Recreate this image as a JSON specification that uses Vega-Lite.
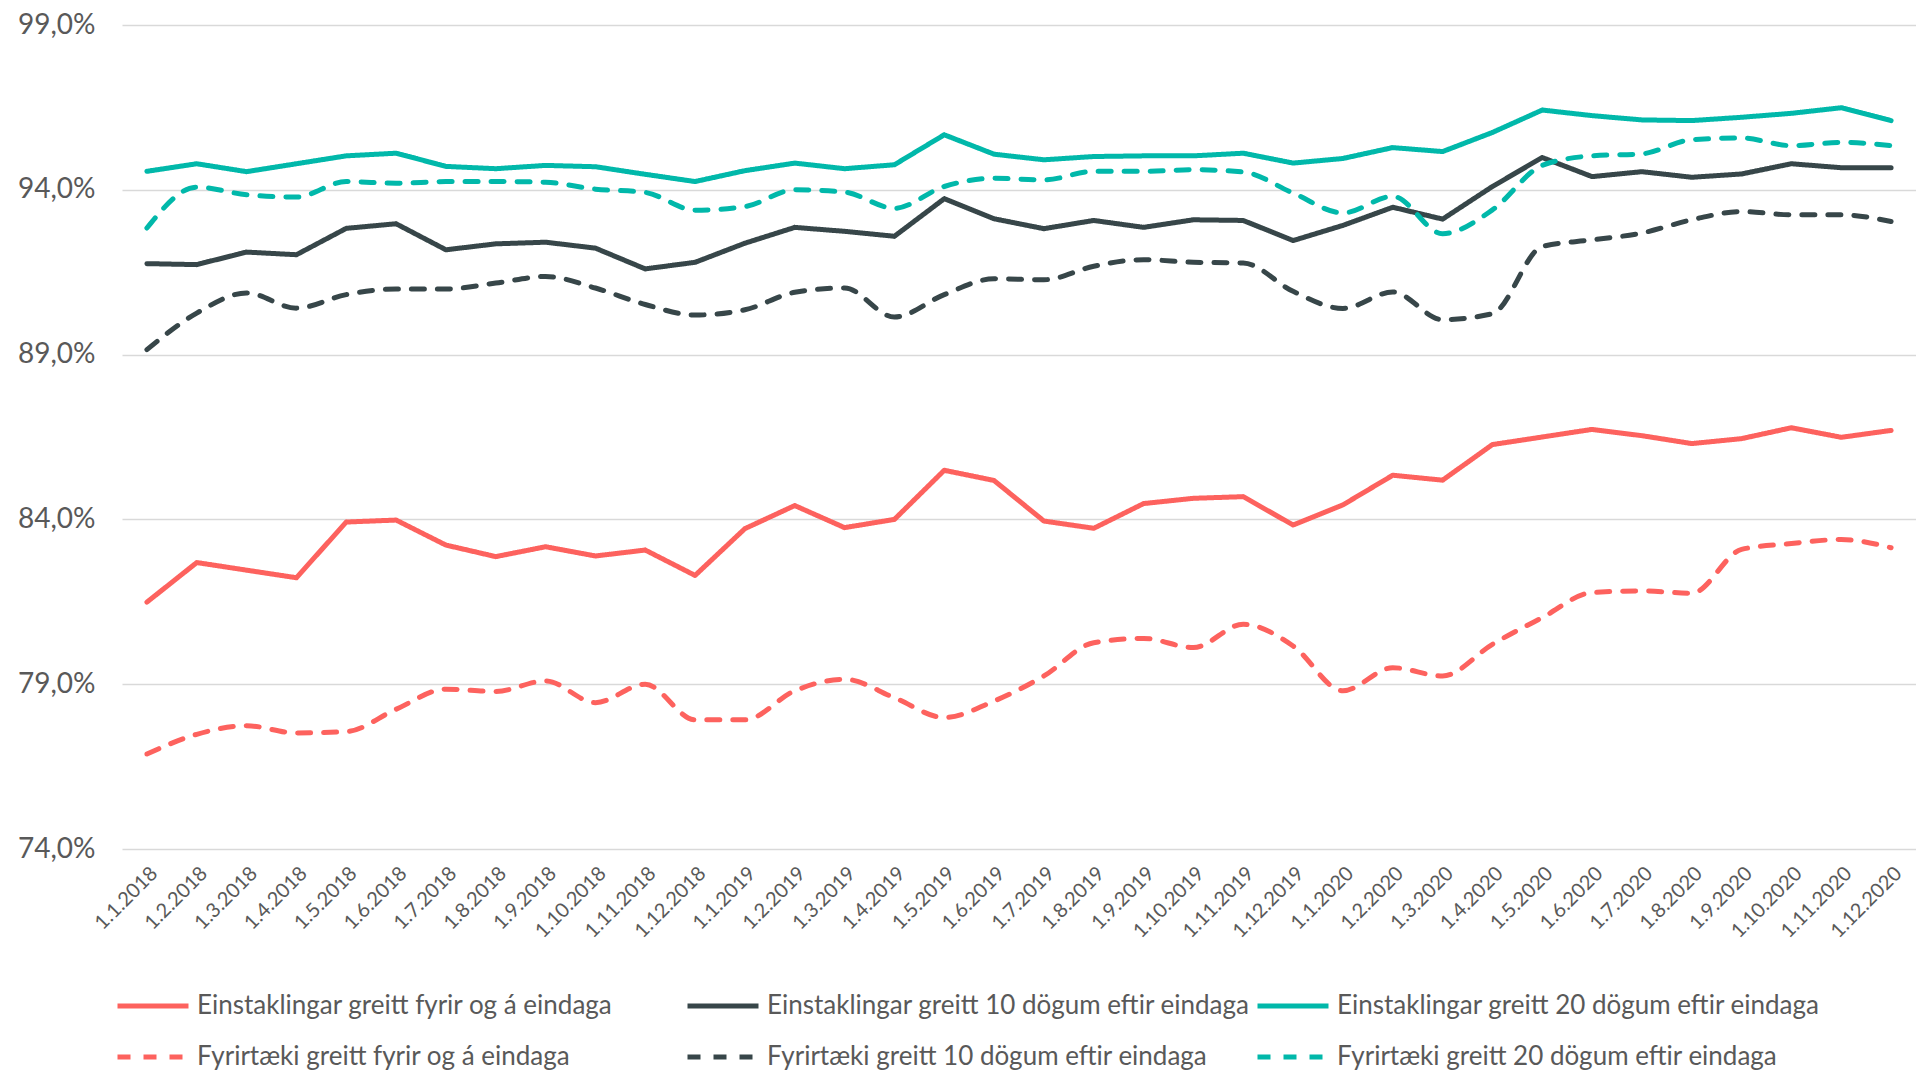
{
  "$schema": "https://vega.github.io/schema/vega-lite/v6.json",
  "width": 1794,
  "height": 824,
  "autosize": {"type": "none"},
  "padding": {"left": 122, "top": 25, "right": 0, "bottom": 222},
  "background": "white",
  "config": {
    "view": {"stroke": null},
    "font": "Lato"
  },
  "datasets": {
    "rows": [
      {"d":"1.1.2018","s":"Einstaklingar greitt fyrir og á eindaga","v":81.49},
      {"d":"1.2.2018","s":"Einstaklingar greitt fyrir og á eindaga","v":82.69},
      {"d":"1.3.2018","s":"Einstaklingar greitt fyrir og á eindaga","v":82.46},
      {"d":"1.4.2018","s":"Einstaklingar greitt fyrir og á eindaga","v":82.23},
      {"d":"1.5.2018","s":"Einstaklingar greitt fyrir og á eindaga","v":83.92},
      {"d":"1.6.2018","s":"Einstaklingar greitt fyrir og á eindaga","v":83.98},
      {"d":"1.7.2018","s":"Einstaklingar greitt fyrir og á eindaga","v":83.22},
      {"d":"1.8.2018","s":"Einstaklingar greitt fyrir og á eindaga","v":82.87},
      {"d":"1.9.2018","s":"Einstaklingar greitt fyrir og á eindaga","v":83.17},
      {"d":"1.10.2018","s":"Einstaklingar greitt fyrir og á eindaga","v":82.89},
      {"d":"1.11.2018","s":"Einstaklingar greitt fyrir og á eindaga","v":83.07},
      {"d":"1.12.2018","s":"Einstaklingar greitt fyrir og á eindaga","v":82.30},
      {"d":"1.1.2019","s":"Einstaklingar greitt fyrir og á eindaga","v":83.72},
      {"d":"1.2.2019","s":"Einstaklingar greitt fyrir og á eindaga","v":84.42},
      {"d":"1.3.2019","s":"Einstaklingar greitt fyrir og á eindaga","v":83.75},
      {"d":"1.4.2019","s":"Einstaklingar greitt fyrir og á eindaga","v":84.00},
      {"d":"1.5.2019","s":"Einstaklingar greitt fyrir og á eindaga","v":85.49},
      {"d":"1.6.2019","s":"Einstaklingar greitt fyrir og á eindaga","v":85.18},
      {"d":"1.7.2019","s":"Einstaklingar greitt fyrir og á eindaga","v":83.95},
      {"d":"1.8.2019","s":"Einstaklingar greitt fyrir og á eindaga","v":83.73},
      {"d":"1.9.2019","s":"Einstaklingar greitt fyrir og á eindaga","v":84.48},
      {"d":"1.10.2019","s":"Einstaklingar greitt fyrir og á eindaga","v":84.64},
      {"d":"1.11.2019","s":"Einstaklingar greitt fyrir og á eindaga","v":84.69},
      {"d":"1.12.2019","s":"Einstaklingar greitt fyrir og á eindaga","v":83.83},
      {"d":"1.1.2020","s":"Einstaklingar greitt fyrir og á eindaga","v":84.44},
      {"d":"1.2.2020","s":"Einstaklingar greitt fyrir og á eindaga","v":85.34},
      {"d":"1.3.2020","s":"Einstaklingar greitt fyrir og á eindaga","v":85.19},
      {"d":"1.4.2020","s":"Einstaklingar greitt fyrir og á eindaga","v":86.27},
      {"d":"1.5.2020","s":"Einstaklingar greitt fyrir og á eindaga","v":86.50},
      {"d":"1.6.2020","s":"Einstaklingar greitt fyrir og á eindaga","v":86.73},
      {"d":"1.7.2020","s":"Einstaklingar greitt fyrir og á eindaga","v":86.54},
      {"d":"1.8.2020","s":"Einstaklingar greitt fyrir og á eindaga","v":86.30},
      {"d":"1.9.2020","s":"Einstaklingar greitt fyrir og á eindaga","v":86.45},
      {"d":"1.10.2020","s":"Einstaklingar greitt fyrir og á eindaga","v":86.78},
      {"d":"1.11.2020","s":"Einstaklingar greitt fyrir og á eindaga","v":86.49},
      {"d":"1.12.2020","s":"Einstaklingar greitt fyrir og á eindaga","v":86.70},

      {"d":"1.1.2018","s":"Einstaklingar greitt 10 dögum eftir eindaga","v":91.76},
      {"d":"1.2.2018","s":"Einstaklingar greitt 10 dögum eftir eindaga","v":91.73},
      {"d":"1.3.2018","s":"Einstaklingar greitt 10 dögum eftir eindaga","v":92.11},
      {"d":"1.4.2018","s":"Einstaklingar greitt 10 dögum eftir eindaga","v":92.03},
      {"d":"1.5.2018","s":"Einstaklingar greitt 10 dögum eftir eindaga","v":92.83},
      {"d":"1.6.2018","s":"Einstaklingar greitt 10 dögum eftir eindaga","v":92.97},
      {"d":"1.7.2018","s":"Einstaklingar greitt 10 dögum eftir eindaga","v":92.18},
      {"d":"1.8.2018","s":"Einstaklingar greitt 10 dögum eftir eindaga","v":92.36},
      {"d":"1.9.2018","s":"Einstaklingar greitt 10 dögum eftir eindaga","v":92.41},
      {"d":"1.10.2018","s":"Einstaklingar greitt 10 dögum eftir eindaga","v":92.23},
      {"d":"1.11.2018","s":"Einstaklingar greitt 10 dögum eftir eindaga","v":91.60},
      {"d":"1.12.2018","s":"Einstaklingar greitt 10 dögum eftir eindaga","v":91.80},
      {"d":"1.1.2019","s":"Einstaklingar greitt 10 dögum eftir eindaga","v":92.38},
      {"d":"1.2.2019","s":"Einstaklingar greitt 10 dögum eftir eindaga","v":92.86},
      {"d":"1.3.2019","s":"Einstaklingar greitt 10 dögum eftir eindaga","v":92.74},
      {"d":"1.4.2019","s":"Einstaklingar greitt 10 dögum eftir eindaga","v":92.59},
      {"d":"1.5.2019","s":"Einstaklingar greitt 10 dögum eftir eindaga","v":93.73},
      {"d":"1.6.2019","s":"Einstaklingar greitt 10 dögum eftir eindaga","v":93.12},
      {"d":"1.7.2019","s":"Einstaklingar greitt 10 dögum eftir eindaga","v":92.82},
      {"d":"1.8.2019","s":"Einstaklingar greitt 10 dögum eftir eindaga","v":93.07},
      {"d":"1.9.2019","s":"Einstaklingar greitt 10 dögum eftir eindaga","v":92.86},
      {"d":"1.10.2019","s":"Einstaklingar greitt 10 dögum eftir eindaga","v":93.09},
      {"d":"1.11.2019","s":"Einstaklingar greitt 10 dögum eftir eindaga","v":93.07},
      {"d":"1.12.2019","s":"Einstaklingar greitt 10 dögum eftir eindaga","v":92.46},
      {"d":"1.1.2020","s":"Einstaklingar greitt 10 dögum eftir eindaga","v":92.92},
      {"d":"1.2.2020","s":"Einstaklingar greitt 10 dögum eftir eindaga","v":93.47},
      {"d":"1.3.2020","s":"Einstaklingar greitt 10 dögum eftir eindaga","v":93.11},
      {"d":"1.4.2020","s":"Einstaklingar greitt 10 dögum eftir eindaga","v":94.10},
      {"d":"1.5.2020","s":"Einstaklingar greitt 10 dögum eftir eindaga","v":94.98},
      {"d":"1.6.2020","s":"Einstaklingar greitt 10 dögum eftir eindaga","v":94.40},
      {"d":"1.7.2020","s":"Einstaklingar greitt 10 dögum eftir eindaga","v":94.55},
      {"d":"1.8.2020","s":"Einstaklingar greitt 10 dögum eftir eindaga","v":94.38},
      {"d":"1.9.2020","s":"Einstaklingar greitt 10 dögum eftir eindaga","v":94.48},
      {"d":"1.10.2020","s":"Einstaklingar greitt 10 dögum eftir eindaga","v":94.79},
      {"d":"1.11.2020","s":"Einstaklingar greitt 10 dögum eftir eindaga","v":94.67},
      {"d":"1.12.2020","s":"Einstaklingar greitt 10 dögum eftir eindaga","v":94.67},

      {"d":"1.1.2018","s":"Einstaklingar greitt 20 dögum eftir eindaga","v":94.56},
      {"d":"1.2.2018","s":"Einstaklingar greitt 20 dögum eftir eindaga","v":94.79},
      {"d":"1.3.2018","s":"Einstaklingar greitt 20 dögum eftir eindaga","v":94.55},
      {"d":"1.4.2018","s":"Einstaklingar greitt 20 dögum eftir eindaga","v":94.79},
      {"d":"1.5.2018","s":"Einstaklingar greitt 20 dögum eftir eindaga","v":95.03},
      {"d":"1.6.2018","s":"Einstaklingar greitt 20 dögum eftir eindaga","v":95.11},
      {"d":"1.7.2018","s":"Einstaklingar greitt 20 dögum eftir eindaga","v":94.71},
      {"d":"1.8.2018","s":"Einstaklingar greitt 20 dögum eftir eindaga","v":94.64},
      {"d":"1.9.2018","s":"Einstaklingar greitt 20 dögum eftir eindaga","v":94.74},
      {"d":"1.10.2018","s":"Einstaklingar greitt 20 dögum eftir eindaga","v":94.70},
      {"d":"1.11.2018","s":"Einstaklingar greitt 20 dögum eftir eindaga","v":94.47},
      {"d":"1.12.2018","s":"Einstaklingar greitt 20 dögum eftir eindaga","v":94.25},
      {"d":"1.1.2019","s":"Einstaklingar greitt 20 dögum eftir eindaga","v":94.58},
      {"d":"1.2.2019","s":"Einstaklingar greitt 20 dögum eftir eindaga","v":94.81},
      {"d":"1.3.2019","s":"Einstaklingar greitt 20 dögum eftir eindaga","v":94.64},
      {"d":"1.4.2019","s":"Einstaklingar greitt 20 dögum eftir eindaga","v":94.76},
      {"d":"1.5.2019","s":"Einstaklingar greitt 20 dögum eftir eindaga","v":95.67},
      {"d":"1.6.2019","s":"Einstaklingar greitt 20 dögum eftir eindaga","v":95.08},
      {"d":"1.7.2019","s":"Einstaklingar greitt 20 dögum eftir eindaga","v":94.91},
      {"d":"1.8.2019","s":"Einstaklingar greitt 20 dögum eftir eindaga","v":95.01},
      {"d":"1.9.2019","s":"Einstaklingar greitt 20 dögum eftir eindaga","v":95.03},
      {"d":"1.10.2019","s":"Einstaklingar greitt 20 dögum eftir eindaga","v":95.03},
      {"d":"1.11.2019","s":"Einstaklingar greitt 20 dögum eftir eindaga","v":95.11},
      {"d":"1.12.2019","s":"Einstaklingar greitt 20 dögum eftir eindaga","v":94.81},
      {"d":"1.1.2020","s":"Einstaklingar greitt 20 dögum eftir eindaga","v":94.95},
      {"d":"1.2.2020","s":"Einstaklingar greitt 20 dögum eftir eindaga","v":95.28},
      {"d":"1.3.2020","s":"Einstaklingar greitt 20 dögum eftir eindaga","v":95.16},
      {"d":"1.4.2020","s":"Einstaklingar greitt 20 dögum eftir eindaga","v":95.74},
      {"d":"1.5.2020","s":"Einstaklingar greitt 20 dögum eftir eindaga","v":96.42},
      {"d":"1.6.2020","s":"Einstaklingar greitt 20 dögum eftir eindaga","v":96.25},
      {"d":"1.7.2020","s":"Einstaklingar greitt 20 dögum eftir eindaga","v":96.12},
      {"d":"1.8.2020","s":"Einstaklingar greitt 20 dögum eftir eindaga","v":96.10},
      {"d":"1.9.2020","s":"Einstaklingar greitt 20 dögum eftir eindaga","v":96.20},
      {"d":"1.10.2020","s":"Einstaklingar greitt 20 dögum eftir eindaga","v":96.32},
      {"d":"1.11.2020","s":"Einstaklingar greitt 20 dögum eftir eindaga","v":96.49},
      {"d":"1.12.2020","s":"Einstaklingar greitt 20 dögum eftir eindaga","v":96.10},

      {"d":"1.1.2018","s":"Fyrirtæki greitt fyrir og á eindaga","v":76.88},
      {"d":"1.2.2018","s":"Fyrirtæki greitt fyrir og á eindaga","v":77.48},
      {"d":"1.3.2018","s":"Fyrirtæki greitt fyrir og á eindaga","v":77.74},
      {"d":"1.4.2018","s":"Fyrirtæki greitt fyrir og á eindaga","v":77.52},
      {"d":"1.5.2018","s":"Fyrirtæki greitt fyrir og á eindaga","v":77.56},
      {"d":"1.6.2018","s":"Fyrirtæki greitt fyrir og á eindaga","v":78.24},
      {"d":"1.7.2018","s":"Fyrirtæki greitt fyrir og á eindaga","v":78.85},
      {"d":"1.8.2018","s":"Fyrirtæki greitt fyrir og á eindaga","v":78.78},
      {"d":"1.9.2018","s":"Fyrirtæki greitt fyrir og á eindaga","v":79.10},
      {"d":"1.10.2018","s":"Fyrirtæki greitt fyrir og á eindaga","v":78.44},
      {"d":"1.11.2018","s":"Fyrirtæki greitt fyrir og á eindaga","v":79.00},
      {"d":"1.12.2018","s":"Fyrirtæki greitt fyrir og á eindaga","v":77.92},
      {"d":"1.1.2019","s":"Fyrirtæki greitt fyrir og á eindaga","v":77.92},
      {"d":"1.2.2019","s":"Fyrirtæki greitt fyrir og á eindaga","v":78.80},
      {"d":"1.3.2019","s":"Fyrirtæki greitt fyrir og á eindaga","v":79.15},
      {"d":"1.4.2019","s":"Fyrirtæki greitt fyrir og á eindaga","v":78.59},
      {"d":"1.5.2019","s":"Fyrirtæki greitt fyrir og á eindaga","v":77.99},
      {"d":"1.6.2019","s":"Fyrirtæki greitt fyrir og á eindaga","v":78.49},
      {"d":"1.7.2019","s":"Fyrirtæki greitt fyrir og á eindaga","v":79.25},
      {"d":"1.8.2019","s":"Fyrirtæki greitt fyrir og á eindaga","v":80.26},
      {"d":"1.9.2019","s":"Fyrirtæki greitt fyrir og á eindaga","v":80.39},
      {"d":"1.10.2019","s":"Fyrirtæki greitt fyrir og á eindaga","v":80.11},
      {"d":"1.11.2019","s":"Fyrirtæki greitt fyrir og á eindaga","v":80.82},
      {"d":"1.12.2019","s":"Fyrirtæki greitt fyrir og á eindaga","v":80.16},
      {"d":"1.1.2020","s":"Fyrirtæki greitt fyrir og á eindaga","v":78.80},
      {"d":"1.2.2020","s":"Fyrirtæki greitt fyrir og á eindaga","v":79.50},
      {"d":"1.3.2020","s":"Fyrirtæki greitt fyrir og á eindaga","v":79.25},
      {"d":"1.4.2020","s":"Fyrirtæki greitt fyrir og á eindaga","v":80.21},
      {"d":"1.5.2020","s":"Fyrirtæki greitt fyrir og á eindaga","v":81.02},
      {"d":"1.6.2020","s":"Fyrirtæki greitt fyrir og á eindaga","v":81.78},
      {"d":"1.7.2020","s":"Fyrirtæki greitt fyrir og á eindaga","v":81.83},
      {"d":"1.8.2020","s":"Fyrirtæki greitt fyrir og á eindaga","v":81.76},
      {"d":"1.9.2020","s":"Fyrirtæki greitt fyrir og á eindaga","v":83.09},
      {"d":"1.10.2020","s":"Fyrirtæki greitt fyrir og á eindaga","v":83.27},
      {"d":"1.11.2020","s":"Fyrirtæki greitt fyrir og á eindaga","v":83.39},
      {"d":"1.12.2020","s":"Fyrirtæki greitt fyrir og á eindaga","v":83.14},

      {"d":"1.1.2018","s":"Fyrirtæki greitt 10 dögum eftir eindaga","v":89.15},
      {"d":"1.2.2018","s":"Fyrirtæki greitt 10 dögum eftir eindaga","v":90.26},
      {"d":"1.3.2018","s":"Fyrirtæki greitt 10 dögum eftir eindaga","v":90.87},
      {"d":"1.4.2018","s":"Fyrirtæki greitt 10 dögum eftir eindaga","v":90.41},
      {"d":"1.5.2018","s":"Fyrirtæki greitt 10 dögum eftir eindaga","v":90.82},
      {"d":"1.6.2018","s":"Fyrirtæki greitt 10 dögum eftir eindaga","v":90.99},
      {"d":"1.7.2018","s":"Fyrirtæki greitt 10 dögum eftir eindaga","v":90.99},
      {"d":"1.8.2018","s":"Fyrirtæki greitt 10 dögum eftir eindaga","v":91.17},
      {"d":"1.9.2018","s":"Fyrirtæki greitt 10 dögum eftir eindaga","v":91.37},
      {"d":"1.10.2018","s":"Fyrirtæki greitt 10 dögum eftir eindaga","v":91.02},
      {"d":"1.11.2018","s":"Fyrirtæki greitt 10 dögum eftir eindaga","v":90.52},
      {"d":"1.12.2018","s":"Fyrirtæki greitt 10 dögum eftir eindaga","v":90.20},
      {"d":"1.1.2019","s":"Fyrirtæki greitt 10 dögum eftir eindaga","v":90.36},
      {"d":"1.2.2019","s":"Fyrirtæki greitt 10 dögum eftir eindaga","v":90.89},
      {"d":"1.3.2019","s":"Fyrirtæki greitt 10 dögum eftir eindaga","v":91.02},
      {"d":"1.4.2019","s":"Fyrirtæki greitt 10 dögum eftir eindaga","v":90.14},
      {"d":"1.5.2019","s":"Fyrirtæki greitt 10 dögum eftir eindaga","v":90.82},
      {"d":"1.6.2019","s":"Fyrirtæki greitt 10 dögum eftir eindaga","v":91.30},
      {"d":"1.7.2019","s":"Fyrirtæki greitt 10 dögum eftir eindaga","v":91.27},
      {"d":"1.8.2019","s":"Fyrirtæki greitt 10 dögum eftir eindaga","v":91.68},
      {"d":"1.9.2019","s":"Fyrirtæki greitt 10 dögum eftir eindaga","v":91.88},
      {"d":"1.10.2019","s":"Fyrirtæki greitt 10 dögum eftir eindaga","v":91.80},
      {"d":"1.11.2019","s":"Fyrirtæki greitt 10 dögum eftir eindaga","v":91.78},
      {"d":"1.12.2019","s":"Fyrirtæki greitt 10 dögum eftir eindaga","v":90.92},
      {"d":"1.1.2020","s":"Fyrirtæki greitt 10 dögum eftir eindaga","v":90.40},
      {"d":"1.2.2020","s":"Fyrirtæki greitt 10 dögum eftir eindaga","v":90.90},
      {"d":"1.3.2020","s":"Fyrirtæki greitt 10 dögum eftir eindaga","v":90.06},
      {"d":"1.4.2020","s":"Fyrirtæki greitt 10 dögum eftir eindaga","v":90.24},
      {"d":"1.5.2020","s":"Fyrirtæki greitt 10 dögum eftir eindaga","v":92.28},
      {"d":"1.6.2020","s":"Fyrirtæki greitt 10 dögum eftir eindaga","v":92.48},
      {"d":"1.7.2020","s":"Fyrirtæki greitt 10 dögum eftir eindaga","v":92.69},
      {"d":"1.8.2020","s":"Fyrirtæki greitt 10 dögum eftir eindaga","v":93.09},
      {"d":"1.9.2020","s":"Fyrirtæki greitt 10 dögum eftir eindaga","v":93.34},
      {"d":"1.10.2020","s":"Fyrirtæki greitt 10 dögum eftir eindaga","v":93.24},
      {"d":"1.11.2020","s":"Fyrirtæki greitt 10 dögum eftir eindaga","v":93.24},
      {"d":"1.12.2020","s":"Fyrirtæki greitt 10 dögum eftir eindaga","v":93.04},

      {"d":"1.1.2018","s":"Fyrirtæki greitt 20 dögum eftir eindaga","v":92.84},
      {"d":"1.2.2018","s":"Fyrirtæki greitt 20 dögum eftir eindaga","v":94.08},
      {"d":"1.3.2018","s":"Fyrirtæki greitt 20 dögum eftir eindaga","v":93.85},
      {"d":"1.4.2018","s":"Fyrirtæki greitt 20 dögum eftir eindaga","v":93.78},
      {"d":"1.5.2018","s":"Fyrirtæki greitt 20 dögum eftir eindaga","v":94.25},
      {"d":"1.6.2018","s":"Fyrirtæki greitt 20 dögum eftir eindaga","v":94.20},
      {"d":"1.7.2018","s":"Fyrirtæki greitt 20 dögum eftir eindaga","v":94.25},
      {"d":"1.8.2018","s":"Fyrirtæki greitt 20 dögum eftir eindaga","v":94.25},
      {"d":"1.9.2018","s":"Fyrirtæki greitt 20 dögum eftir eindaga","v":94.23},
      {"d":"1.10.2018","s":"Fyrirtæki greitt 20 dögum eftir eindaga","v":94.02},
      {"d":"1.11.2018","s":"Fyrirtæki greitt 20 dögum eftir eindaga","v":93.92},
      {"d":"1.12.2018","s":"Fyrirtæki greitt 20 dögum eftir eindaga","v":93.38},
      {"d":"1.1.2019","s":"Fyrirtæki greitt 20 dögum eftir eindaga","v":93.49},
      {"d":"1.2.2019","s":"Fyrirtæki greitt 20 dögum eftir eindaga","v":94.00},
      {"d":"1.3.2019","s":"Fyrirtæki greitt 20 dögum eftir eindaga","v":93.93},
      {"d":"1.4.2019","s":"Fyrirtæki greitt 20 dögum eftir eindaga","v":93.44},
      {"d":"1.5.2019","s":"Fyrirtæki greitt 20 dögum eftir eindaga","v":94.10},
      {"d":"1.6.2019","s":"Fyrirtæki greitt 20 dögum eftir eindaga","v":94.35},
      {"d":"1.7.2019","s":"Fyrirtæki greitt 20 dögum eftir eindaga","v":94.30},
      {"d":"1.8.2019","s":"Fyrirtæki greitt 20 dögum eftir eindaga","v":94.56},
      {"d":"1.9.2019","s":"Fyrirtæki greitt 20 dögum eftir eindaga","v":94.56},
      {"d":"1.10.2019","s":"Fyrirtæki greitt 20 dögum eftir eindaga","v":94.61},
      {"d":"1.11.2019","s":"Fyrirtæki greitt 20 dögum eftir eindaga","v":94.54},
      {"d":"1.12.2019","s":"Fyrirtæki greitt 20 dögum eftir eindaga","v":93.90},
      {"d":"1.1.2020","s":"Fyrirtæki greitt 20 dögum eftir eindaga","v":93.30},
      {"d":"1.2.2020","s":"Fyrirtæki greitt 20 dögum eftir eindaga","v":93.80},
      {"d":"1.3.2020","s":"Fyrirtæki greitt 20 dögum eftir eindaga","v":92.67},
      {"d":"1.4.2020","s":"Fyrirtæki greitt 20 dögum eftir eindaga","v":93.39},
      {"d":"1.5.2020","s":"Fyrirtæki greitt 20 dögum eftir eindaga","v":94.74},
      {"d":"1.6.2020","s":"Fyrirtæki greitt 20 dögum eftir eindaga","v":95.03},
      {"d":"1.7.2020","s":"Fyrirtæki greitt 20 dögum eftir eindaga","v":95.09},
      {"d":"1.8.2020","s":"Fyrirtæki greitt 20 dögum eftir eindaga","v":95.52},
      {"d":"1.9.2020","s":"Fyrirtæki greitt 20 dögum eftir eindaga","v":95.57},
      {"d":"1.10.2020","s":"Fyrirtæki greitt 20 dögum eftir eindaga","v":95.34},
      {"d":"1.11.2020","s":"Fyrirtæki greitt 20 dögum eftir eindaga","v":95.44},
      {"d":"1.12.2020","s":"Fyrirtæki greitt 20 dögum eftir eindaga","v":95.34}
    ]
  },
  "data": {"name": "rows"},
  "encoding": {
    "x": {
      "field": "d",
      "type": "ordinal",
      "sort": null,
      "scale": {
        "type": "point",
        "padding": 0.5,
        "domain": ["1.1.2018","1.2.2018","1.3.2018","1.4.2018","1.5.2018","1.6.2018","1.7.2018","1.8.2018","1.9.2018","1.10.2018","1.11.2018","1.12.2018","1.1.2019","1.2.2019","1.3.2019","1.4.2019","1.5.2019","1.6.2019","1.7.2019","1.8.2019","1.9.2019","1.10.2019","1.11.2019","1.12.2019","1.1.2020","1.2.2020","1.3.2020","1.4.2020","1.5.2020","1.6.2020","1.7.2020","1.8.2020","1.9.2020","1.10.2020","1.11.2020","1.12.2020"]
      },
      "axis": {
        "title": null,
        "domain": false,
        "ticks": false,
        "grid": false,
        "labelAngle": -45,
        "labelFontSize": 20,
        "labelColor": "#595959",
        "labelPadding": 14,
        "labelFont": "Lato"
      }
    },
    "y": {
      "field": "v",
      "type": "quantitative",
      "scale": {"domain": [74, 99], "zero": false, "nice": false},
      "axis": {
        "title": null,
        "values": [74, 79, 84, 89, 94, 99],
        "labelExpr": "replace(format(datum.value, '.1f'), '.', ',') + '%'",
        "domain": false,
        "ticks": false,
        "grid": true,
        "gridColor": "#D9D9D9",
        "gridWidth": 1.5,
        "labelFontSize": 28,
        "labelColor": "#595959",
        "labelPadding": 27,
        "labelFont": "Lato"
      }
    },
    "color": {
      "field": "s",
      "type": "nominal",
      "scale": {
        "domain": ["Einstaklingar greitt fyrir og á eindaga","Einstaklingar greitt 10 dögum eftir eindaga","Einstaklingar greitt 20 dögum eftir eindaga","Fyrirtæki greitt fyrir og á eindaga","Fyrirtæki greitt 10 dögum eftir eindaga","Fyrirtæki greitt 20 dögum eftir eindaga"],
        "range": ["#FD625E","#374649","#01B8AA","#FD625E","#374649","#01B8AA"]
      },
      "legend": {
        "title": null,
        "orient": "none",
        "legendX": -7,
        "legendY": 943,
        "direction": "horizontal",
        "columns": 3,
        "gridAlign": "all",
        "columnPadding": -3,
        "rowPadding": -23,
        "symbolType": "stroke",
        "symbolSize": 5041,
        "symbolStrokeWidth": 5,
        "labelFontSize": 26,
        "labelColor": "#595959",
        "labelFont": "Lato",
        "labelLimit": 1000,
        "labelOffset": 6
      }
    },
    "strokeDash": {
      "field": "s",
      "type": "nominal",
      "scale": {
        "domain": ["Einstaklingar greitt fyrir og á eindaga","Einstaklingar greitt 10 dögum eftir eindaga","Einstaklingar greitt 20 dögum eftir eindaga","Fyrirtæki greitt fyrir og á eindaga","Fyrirtæki greitt 10 dögum eftir eindaga","Fyrirtæki greitt 20 dögum eftir eindaga"],
        "range": [[1,0],[1,0],[1,0],[13,13],[13,13],[13,13]]
      },
      "legend": null
    }
  },
  "layer": [
    {
      "transform": [{"filter": "indexof(datum.s, 'Einstaklingar') == 0"}],
      "mark": {"type": "line", "strokeWidth": 5, "strokeCap": "round", "strokeJoin": "round"}
    },
    {
      "transform": [{"filter": "indexof(datum.s, 'Fyrirtæki') == 0"}],
      "mark": {"type": "line", "strokeWidth": 5, "strokeCap": "round", "strokeJoin": "round", "interpolate": "monotone"}
    }
  ]
}
